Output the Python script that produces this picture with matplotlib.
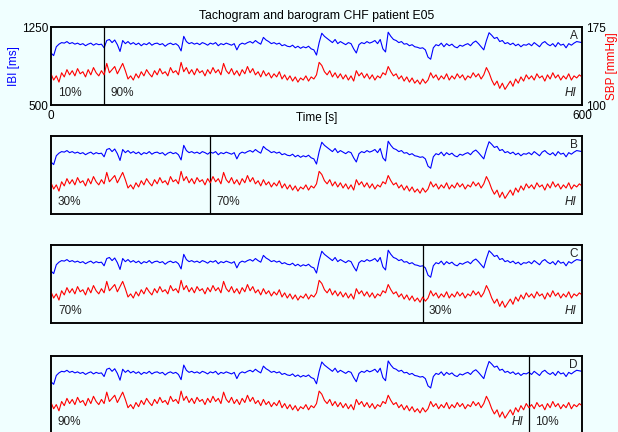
import matplotlib
matplotlib.use("Agg")
import matplotlib.pyplot as plt
import numpy as np

plt.rcParams['font.family'] = ['Liberation Sans', 'DejaVu Sans']

time_s = np.arange(0, 601, 3)
ibi_ms = [
    1000, 975, 1060, 1085, 1100, 1095, 1110, 1090, 1100, 1085,
    1095, 1080, 1090, 1070, 1085, 1095, 1075, 1090, 1080, 1085,
    1050, 1120, 1130, 1100, 1125, 1080, 1015, 1120, 1090, 1110,
    1085, 1100, 1080, 1095, 1070, 1090, 1080, 1100, 1075, 1090,
    1095, 1080, 1090, 1065, 1085, 1095, 1080, 1090, 1070, 1020,
    1160, 1110, 1090, 1100, 1085, 1095, 1080, 1100, 1090, 1075,
    1095, 1085, 1100, 1070, 1090, 1080, 1095, 1085, 1075, 1090,
    1030, 1080, 1095, 1085, 1100, 1110, 1095, 1120, 1100, 1085,
    1150, 1125, 1110, 1090, 1100, 1085, 1095, 1070, 1080, 1065,
    1060, 1075, 1050, 1065, 1045, 1060, 1050, 1065, 1040, 1030,
    980, 1100, 1190, 1160, 1140, 1120, 1100, 1130, 1090, 1110,
    1095, 1080, 1100, 1090, 1040, 1000, 1080, 1100, 1090, 1110,
    1095, 1105, 1120, 1090, 1130, 1040, 1010, 1200, 1160, 1130,
    1120, 1100, 1110, 1085, 1090, 1070, 1080, 1060, 1055, 1045,
    1050, 1030, 960, 940, 1050, 1080, 1070, 1095, 1060, 1090,
    1070, 1085, 1060, 1050, 1075, 1065, 1080, 1090, 1070, 1100,
    1115, 1090, 1060, 1030, 1120, 1195, 1170, 1140, 1150, 1110,
    1120, 1090, 1100, 1080, 1095, 1070, 1085, 1060, 1080, 1075,
    1090, 1070, 1100, 1080, 1060, 1095, 1110, 1085, 1070, 1090,
    1060, 1100, 1075, 1085, 1050, 1090, 1075, 1095, 1110, 1105,
    1100,
]
sbp_mmhg = [
    130, 124, 128, 122, 131, 127, 134, 129, 133, 128,
    135, 130, 132, 127, 134, 129, 136, 131, 128, 133,
    129, 140, 131, 134, 137, 130, 135, 140, 133, 125,
    128, 124, 130, 126, 132, 128, 134, 130, 127, 133,
    129, 135, 130, 132, 128, 136, 131, 133, 129, 141,
    132, 136, 130, 134, 129, 135, 131, 133, 128, 134,
    130, 136, 131, 134, 129, 140, 133, 130, 135, 129,
    133, 128, 134, 130, 137, 131, 135, 129, 132, 127,
    133, 128, 131, 126, 130, 127, 132, 125, 129, 124,
    128, 123, 127, 122, 126, 124, 128, 123, 127, 125,
    129, 141, 138, 132, 129, 133, 127, 131, 126, 130,
    125, 129, 124, 128, 123, 133, 128, 131, 126, 130,
    125, 129, 124, 128, 126, 131, 129, 137, 132, 128,
    130, 125, 128, 123, 127, 122, 126, 121, 124, 120,
    125, 121, 124, 131, 126, 129, 124, 128, 125, 130,
    124, 128, 125, 130, 126, 129, 124, 128, 126, 131,
    127, 130, 125, 129, 136, 131, 124, 119, 123, 116,
    121, 115, 119, 123, 118, 125, 121, 127, 123, 129,
    125, 128, 124, 130, 126, 128, 123, 129, 125, 131,
    126, 129, 124, 128, 125, 130, 124, 128, 126, 129,
    127,
]

panels = ['A', 'B', 'C', 'D']
split_s = [60, 180, 420, 540]
left_pct = ['10%', '30%', '70%', '90%']
right_pct = ['90%', '70%', '30%', '10%']

bg = '#F0FFFF'
fig = plt.figure(figsize=(6.18, 4.32), dpi=100, facecolor=bg)

left, width, height = 51 / 618, 531 / 618, 78 / 432
tops = [27, 136, 245, 354]
fs = 8.5

for i, name in enumerate(panels):
    bottom = 1 - (tops[i] + 78) / 432
    if i == 3:
        bottom -= 0.004
    ax = fig.add_axes([left, bottom, width, height], facecolor=bg)
    ax2 = ax.twinx()
    ax.plot(time_s, ibi_ms, color='#0000FF', lw=0.8)
    ax2.plot(time_s, sbp_mmhg, color='#FF0000', lw=0.8)
    ax.set_xlim(0, 600)
    ax.set_ylim(500, 1250)
    ax2.set_ylim(100, 175)
    ax.axvline(split_s[i], color='black', lw=0.9)
    for a in (ax, ax2):
        for s in a.spines.values():
            s.set_linewidth(1.1)

    if i == 0:
        ax.set_xticks([0, 600])
        ax.set_yticks([500, 1250])
        ax2.set_yticks([100, 175])
        ax.tick_params(axis='y', length=0, labelsize=fs, pad=2)
        ax.tick_params(axis='x', length=0, labelsize=fs, pad=3.5)
        ax2.tick_params(length=0, labelsize=fs, pad=3)
        ax.set_xlabel('Time [s]', fontsize=fs, labelpad=-7)
        ax.set_ylabel('IBI [ms]', fontsize=fs, color='#0000FF', labelpad=1)
        ax2.set_ylabel('SBP [mmHg]', fontsize=fs, color='#FF0000', labelpad=0)
        ax.set_title('Tachogram and barogram CHF patient E05', fontsize=8.8, pad=6)
    else:
        ax.set_xticks([])
        ax.set_yticks([])
        ax2.set_yticks([])

    tr = ('data', 'axes fraction')
    ax.annotate(left_pct[i], xy=(0, 0.15), xycoords=tr, xytext=(5, 0),
                textcoords='offset points', fontsize=fs, va='center', ha='left', color='#222222')
    ax.annotate(right_pct[i], xy=(split_s[i], 0.15), xycoords=tr, xytext=(4.5, 0),
                textcoords='offset points', fontsize=fs, va='center', ha='left', color='#222222')
    hi_x = split_s[i] if i == 3 else 600
    ax.annotate('HI', xy=(hi_x, 0.15), xycoords=tr, xytext=(-4, 0),
                textcoords='offset points', fontsize=fs, va='center', ha='right',
                style='italic', color='#222222')
    ax.annotate(name, xy=(600, 1.0), xycoords=tr, xytext=(-3, -2),
                textcoords='offset points', fontsize=fs, va='top', ha='right', color='#222222')

fig.savefig('out.png', dpi=100, facecolor=bg)
